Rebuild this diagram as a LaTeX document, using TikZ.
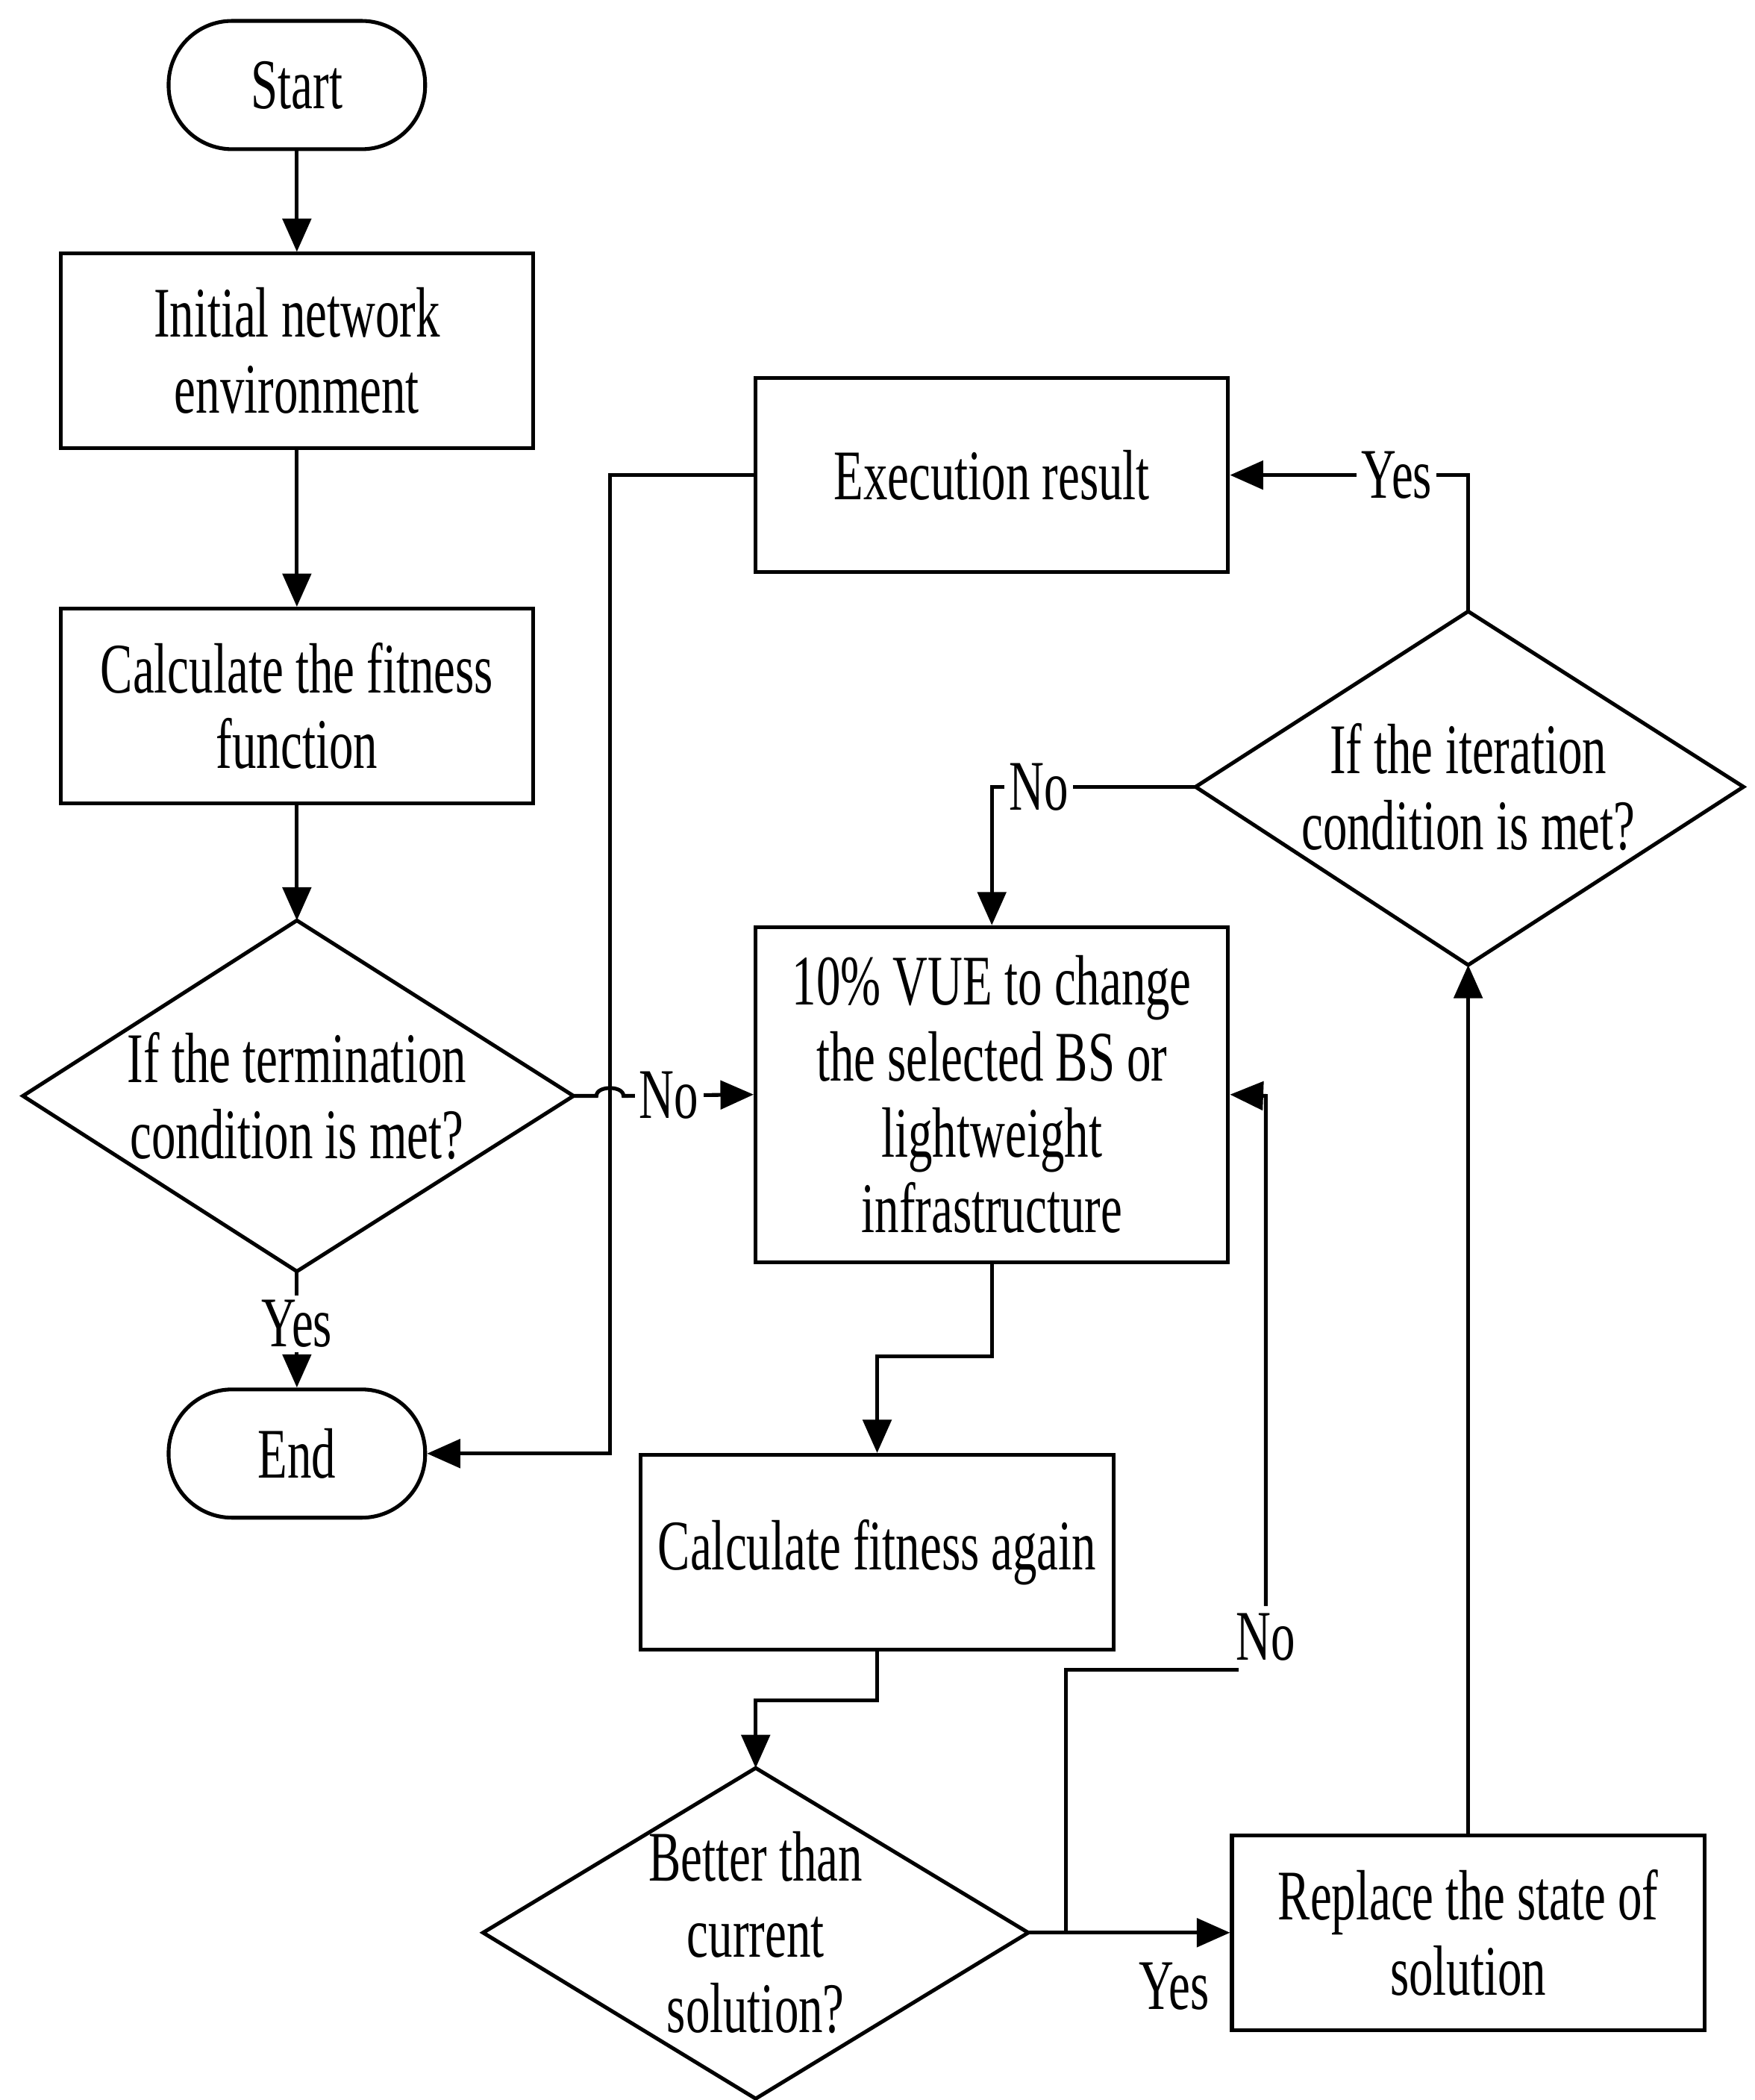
\documentclass[tikz,border=0pt]{standalone}
\usepackage{fontspec}
\setmainfont{Liberation Serif}[FakeStretch=0.68]
\usetikzlibrary{shapes.geometric,arrows.meta}
\begin{document}
\begin{tikzpicture}[x=0.01cm,y=-0.01cm,
  every node/.style={font=\fontsize{15}{16}\selectfont,align=center,inner sep=0pt},
  box/.style={draw,thick,minimum width=3.5cm,minimum height=1.44cm},
  term/.style={draw,thick,rounded corners=0.47cm,minimum width=1.9cm,minimum height=0.95cm},
  line/.style={thick},
  arr/.style={thick,-{Triangle[length=7pt,width=6pt]}},
  lab/.style={fill=white,inner sep=1pt}]
\useasboundingbox (0,0) rectangle (1300,1556);
\node[term] (start) at (220,63) {Start};
\node[box] (init) at (220,260) {Initial network\\environment};
\node[box] (calc) at (220,523) {Calculate the fitness\\function};
\draw[thick] (17,812) coordinate (d1w) -- (220,682) coordinate (d1n) -- (425,812) coordinate (d1e) -- (220,942) coordinate (d1s) -- cycle;
\node (d1) at (220,812) {If the termination\\condition is met?};
\node[term] (end) at (220,1077) {End};
\node[box] (exec) at (735,352) {Execution result};
\draw[thick] (886,583) coordinate (d2w) -- (1088,453) coordinate (d2n) -- (1292,583) coordinate (d2e) -- (1088,715) coordinate (d2s) -- cycle;
\node (d2) at (1088,583) {If the iteration\\condition is met?};
\node[box,minimum height=2.48cm] (vue) at (735,811) {10\% VUE to change\\the selected BS or\\lightweight\\infrastructure};
\node[box] (again) at (650,1150) {Calculate fitness again};
\draw[thick] (358,1432) coordinate (d3w) -- (560,1310) coordinate (d3n) -- (762,1432) coordinate (d3e) -- (560,1555) coordinate (d3s) -- cycle;
\node (d3) at (560,1432) {Better than\\current\\solution?};
\node[box] (rep) at (1088,1432) {Replace the state of\\solution};

\draw[arr] (start) -- (init);
\draw[arr] (init) -- (calc);
\draw[arr] (calc) -- (d1n);
\draw[arr] (d1s) -- (end) node[lab,pos=0.45] {Yes};
\draw[arr] (d1e) -- (442,812) to[bend left=90] (462,812) -- (vue.west) node[lab,pos=0.35] {No};
\draw[arr] (exec.west) -- (452,352) -- (452,1077) -- (end.east);
\draw[arr] (d2n) -- (1088,352) -- (exec.east) node[lab,pos=0.3] {Yes};
\draw[arr] (d2w) -- (735,583) node[lab,pos=0.77] {No} -- (vue.north);
\draw[arr] (vue.south) -- (735,1005) -- (650,1005) -- (again.north);
\draw[arr] (again.south) -- (650,1260) -- (560,1260) -- (d3n);
\draw[arr] (d3e) -- (rep.west);
\node (yes3) at (870,1472) {Yes};
\draw[line] (790,1432) -- (790,1237) -- (918,1237);
\node (no3) at (938,1213) {No};
\draw[arr] (938,1190) -- (938,812) -- (vue.east);
\draw[arr] (rep.north) -- (d2s);
\end{tikzpicture}
\end{document}
